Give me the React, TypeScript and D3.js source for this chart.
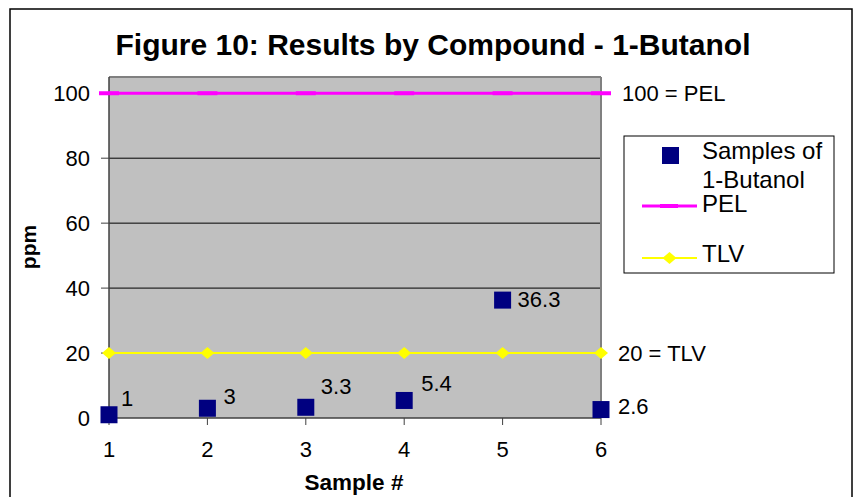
import * as d3 from 'd3'

const samples = [1, 2, 3, 4, 5, 6]
const values = [1, 3, 3.3, 5.4, 36.3, 2.6]
const pel = [100, 100, 100, 100, 100, 100]
const tlv = [20, 20, 20, 20, 20, 20]
const yTicks = [0, 20, 40, 60, 80, 100]

// label nudges relative to each point (dx, dy of the baseline)
const labelOffsets: [number, number][] = [
  [12, -9],
  [16, -4],
  [15, -13],
  [17, -9],
  [15, 7],
  [17, 4],
]

const FONT = "'Liberation Sans', Arial, sans-serif"
const W = 855
const H = 497

export default function App() {
  const plot = { left: 109, right: 601, top: 77, bottom: 418 }

  const x = d3.scaleLinear().domain([1, 6]).range([plot.left, plot.right])
  const y = d3.scaleLinear().domain([0, 105]).range([plot.bottom, plot.top])

  const seriesLine = d3
    .line<number>()
    .x((_, i) => x(samples[i]))
    .y(d => y(d))

  const diamond = (cx: number, cy: number, rx = 7, ry = 6) =>
    `M${cx - rx},${cy}L${cx},${cy - ry}L${cx + rx},${cy}L${cx},${cy + ry}Z`

  const sq = 17

  return (
    <svg
      width={W}
      height={H}
      style={{ position: 'absolute', left: 0, top: 0 }}
      fontFamily={FONT}
    >
      <rect x={0} y={0} width={W} height={H} fill="#fff" />
      <rect x={10} y={9} width={842} height={520} fill="#fff" stroke="#000" strokeWidth={1.5} />

      <text x={433} y={55} textAnchor="middle" fontSize={30} fontWeight="bold">
        Figure 10: Results by Compound - 1-Butanol
      </text>

      {/* plot area */}
      <rect
        x={plot.left}
        y={plot.top}
        width={plot.right - plot.left}
        height={plot.bottom - plot.top}
        fill="#C0C0C0"
      />
      {yTicks.filter(t => t > 0 && t < 100).map(t => (
        <line key={t} x1={plot.left} x2={plot.right} y1={y(t)} y2={y(t)} stroke="#000" strokeWidth={1} />
      ))}
      <line x1={plot.left} x2={plot.right} y1={plot.top} y2={plot.top} stroke="#808080" strokeWidth={2} />
      <line x1={plot.right} x2={plot.right} y1={plot.top} y2={plot.bottom} stroke="#808080" strokeWidth={2} />
      <line x1={plot.left} x2={plot.left} y1={plot.top} y2={plot.bottom} stroke="#404040" strokeWidth={1.5} />
      <line x1={plot.left} x2={plot.right} y1={plot.bottom} y2={plot.bottom} stroke="#404040" strokeWidth={1.5} />

      {/* y axis */}
      {yTicks.map(t => (
        <g key={t}>
          <line x1={plot.left - 8} x2={plot.left} y1={y(t)} y2={y(t)} stroke="#404040" />
          <text x={90} y={y(t)} dy="0.36em" textAnchor="end" fontSize={22}>
            {t}
          </text>
        </g>
      ))}
      {/* x axis */}
      {samples.map(s => (
        <g key={s}>
          <line x1={x(s)} x2={x(s)} y1={plot.bottom} y2={plot.bottom + 7} stroke="#404040" />
          <text x={x(s)} y={457} textAnchor="middle" fontSize={22}>
            {s}
          </text>
        </g>
      ))}
      <text transform="translate(36,247) rotate(-90)" textAnchor="middle" fontSize={21} fontWeight="bold">
        ppm
      </text>
      <text x={354} y={490} textAnchor="middle" fontSize={22.5} fontWeight="bold">
        Sample #
      </text>

      {/* PEL */}
      <path d={seriesLine(pel) ?? ''} fill="none" stroke="#FF00FF" strokeWidth={3} />
      {pel.map((v, i) => (
        <rect key={i} x={x(samples[i]) - 10} y={y(v) - 2} width={20} height={4} fill="#FF00FF" />
      ))}
      <text x={622} y={y(100)} dy="0.36em" fontSize={22}>100 = PEL</text>

      {/* TLV */}
      <path d={seriesLine(tlv) ?? ''} fill="none" stroke="#FFFF00" strokeWidth={2} />
      {tlv.map((v, i) => (
        <path key={i} d={diamond(x(samples[i]), y(v))} fill="#FFFF00" />
      ))}
      <text x={618} y={y(20)} dy="0.36em" fontSize={22}>20 = TLV</text>

      {/* samples */}
      {values.map((v, i) => (
        <g key={i}>
          <rect x={x(samples[i]) - sq / 2} y={y(v) - sq / 2} width={sq} height={sq} fill="#000080" />
          <text
            x={x(samples[i]) + labelOffsets[i][0]}
            y={y(v) + labelOffsets[i][1]}
            fontSize={22}
          >
            {v}
          </text>
        </g>
      ))}

      {/* legend */}
      <rect x={624} y={136} width={210} height={137} fill="#fff" stroke="#000" strokeWidth={1} />
      <rect x={670.5 - sq / 2} y={155.5 - sq / 2} width={sq} height={sq} fill="#000080" />
      <text x={702} y={159} fontSize={24}>Samples of</text>
      <text x={702} y={188} fontSize={24}>1-Butanol</text>
      <line x1={642} x2={697} y1={206} y2={206} stroke="#FF00FF" strokeWidth={3} />
      <rect x={660} y={204} width={18} height={4} fill="#FF00FF" />
      <text x={702} y={212} fontSize={24}>PEL</text>
      <line x1={642} x2={697} y1={258} y2={258} stroke="#FFFF00" strokeWidth={2} />
      <path d={diamond(669.5, 258)} fill="#FFFF00" />
      <text x={702} y={262} fontSize={24}>TLV</text>
    </svg>
  )
}
